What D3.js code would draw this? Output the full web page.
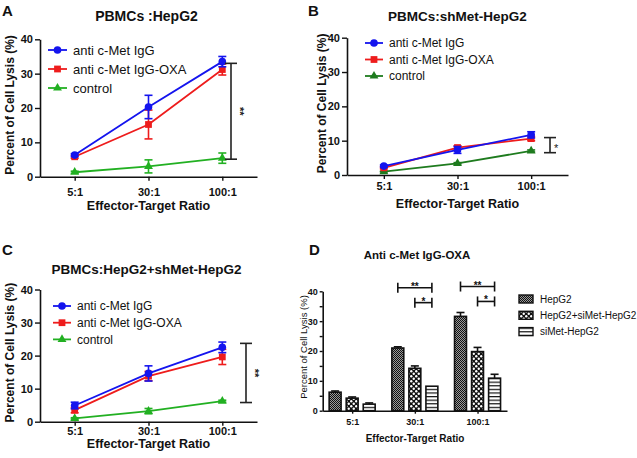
<!DOCTYPE html>
<html><head><meta charset="utf-8">
<script src="https://cdn.jsdelivr.net/npm/d3@7"></script>
<style>
body{margin:0;background:#fff}
svg{display:block}
text{font-family:"Liberation Sans",Arial,Helvetica,sans-serif}
</style>
</head><body>
<svg id="c" width="637" height="458"></svg>
<script>
// ---------- DATA ----------
const categories = ["5:1", "30:1", "100:1"];
const lineSeries = ["anti c-Met IgG", "anti c-Met IgG-OXA", "control"];
const yTicks = [0, 10, 20, 30, 40];

// Panel A  PBMCs :HepG2
const aIgG = [6.3, 20.3, 33.5], aIgGErr = [0.4, 3.4, 1.5];
const aOxa = [5.8, 15.2, 31.2], aOxaErr = [0.4, 4.2, 1.6];
const aCtl = [1.3, 3.0, 5.4],  aCtlErr = [0.3, 1.9, 1.5];
const aSig = [5.1, 33.0];

// Panel B  PBMCs:shMet-HepG2
const bIgG = [2.6, 7.3, 11.7], bIgGErr = [0.3, 1.0, 0.9];
const bOxa = [2.1, 8.0, 10.6], bOxaErr = [0.3, 0.5, 0.6];
const bCtl = [1.0, 3.4, 7.0],  bCtlErr = [0.1, 0.2, 0.3];
const bSig = [6.5, 10.9];

// Panel C  PBMCs:HepG2+shMet-HepG2
const cIgG = [4.9, 14.6, 22.5], cIgGErr = [1.0, 2.3, 1.6];
const cOxa = [3.5, 13.8, 19.6], cOxaErr = [0.8, 1.4, 2.3];
const cCtl = [1.0, 3.2, 6.2],  cCtlErr = [0.2, 0.8, 0.3];
const cSig = [5.8, 23.7];

// Panel D  Anti c-Met IgG-OXA
const barSeries = ["HepG2", "HepG2+siMet-HepG2", "siMet-HepG2"];
const dHep   = [6.2, 21.0, 31.6], dHepErr   = [0.4, 0.4, 1.3];
const dMix   = [4.2, 14.2, 19.8], dMixErr   = [0.4, 0.8, 1.4];
const dSimet = [2.2, 8.2, 10.9],  dSimetErr = [0.4, 0.0, 1.3];
const dTicks = [0, 5, 10, 15, 20, 25, 30, 35, 40];

// ---------- DRAW ----------
const svg = d3.select("#c");
const defs = svg.append("defs");

// patterns
const p1 = defs.append("pattern").attr("id", "pHep").attr("patternUnits", "userSpaceOnUse").attr("width", 2).attr("height", 2);
p1.append("rect").attr("width", 2).attr("height", 2).attr("fill", "#9a9a9a");
p1.append("rect").attr("width", 1).attr("height", 1).attr("fill", "#111");
p1.append("rect").attr("x", 1).attr("y", 1).attr("width", 1).attr("height", 1).attr("fill", "#111");

const p2 = defs.append("pattern").attr("id", "pMix").attr("patternUnits", "userSpaceOnUse").attr("width", 5).attr("height", 5);
p2.append("rect").attr("width", 5).attr("height", 5).attr("fill", "#111");
p2.append("circle").attr("cx", 1.25).attr("cy", 1.25).attr("r", 1.2).attr("fill", "#fff");
p2.append("circle").attr("cx", 3.75).attr("cy", 3.75).attr("r", 1.2).attr("fill", "#fff");

const p3 = defs.append("pattern").attr("id", "pStripe").attr("patternUnits", "userSpaceOnUse").attr("width", 4).attr("height", 3.6);
p3.append("rect").attr("width", 4).attr("height", 3.6).attr("fill", "#fff");
p3.append("rect").attr("width", 4).attr("height", 1.2).attr("fill", "#111");

const FONT = '"Liberation Sans",Arial,sans-serif';

function styleAxis(g, fontSize) {
  g.select(".domain").attr("stroke", "#111").attr("stroke-width", 1.6);
  g.selectAll(".tick line").attr("stroke", "#111").attr("stroke-width", 1.4);
  g.selectAll(".tick text").attr("fill", "#111").style("font-weight", "bold")
    .style("font-size", fontSize + "px").style("font-family", FONT);
}

function marker(g, type, x, y, color) {
  const sym = type === "circle" ? d3.symbolCircle : type === "square" ? d3.symbolSquare : d3.symbolTriangle;
  const size = type === "circle" ? 46 : type === "square" ? 46 : 34;
  g.append("path").attr("d", d3.symbol().type(sym).size(size)())
    .attr("transform", `translate(${x},${y})`).attr("fill", color);
}

function linePanel(o) {
  const g = svg.append("g");
  const x = d3.scalePoint().domain(categories).range([o.left, o.right]).padding(o.pad);
  const y = d3.scaleLinear().domain([0, 40]).range([o.bottom, o.top]);

  const ya = g.append("g").attr("transform", `translate(${o.left},0)`)
    .call(d3.axisLeft(y).tickValues(yTicks).tickSize(5).tickPadding(2).tickSizeOuter(0));
  styleAxis(ya, 11);
  const xa = g.append("g").attr("transform", `translate(0,${o.bottom})`)
    .call(d3.axisBottom(x).tickSize(4).tickPadding(o.xPad).tickSizeOuter(0));
  styleAxis(xa, 11);

  const series = [
    {name: lineSeries[2], v: o.ctl, e: o.ctlE, color: o.green, m: "triangle"},
    {name: lineSeries[1], v: o.oxa, e: o.oxaE, color: "#ee1c1c", m: "square"},
    {name: lineSeries[0], v: o.igg, e: o.iggE, color: "#1414ee", m: "circle"}
  ];
  const line = d3.line().x((d, i) => x(categories[i])).y(d => y(d));
  series.forEach(s => {
    const sg = g.append("g");
    sg.append("path").attr("d", line(s.v)).attr("fill", "none").attr("stroke", s.color).attr("stroke-width", 1.8);
    s.v.forEach((v, i) => {
      const cx = x(categories[i]);
      const e = s.e[i];
      if (e > 0) {
        sg.append("line").attr("x1", cx).attr("x2", cx).attr("y1", y(v - e)).attr("y2", y(v + e)).attr("stroke", s.color).attr("stroke-width", 1.6);
        [v - e, v + e].forEach(t => sg.append("line").attr("x1", cx - 4).attr("x2", cx + 4).attr("y1", y(t)).attr("y2", y(t)).attr("stroke", s.color).attr("stroke-width", 1.6));
      }
      marker(sg, s.m, cx, y(v), s.color);
    });
  });

  // significance bracket
  const bx = o.sigX;
  g.append("line").attr("x1", bx).attr("x2", bx).attr("y1", y(o.sig[0])).attr("y2", y(o.sig[1])).attr("stroke", "#222").attr("stroke-width", 1.6);
  o.sig.forEach(t => g.append("line").attr("x1", bx - 6).attr("x2", bx + 6).attr("y1", y(t)).attr("y2", y(t)).attr("stroke", "#222").attr("stroke-width", 1.6));
  const my = (y(o.sig[0]) + y(o.sig[1])) / 2;
  if (o.sigRot) {
    g.append("text").attr("transform", `translate(${bx + 5},${my}) rotate(90)`).attr("text-anchor", "middle")
      .style("font-size", "11px").style("font-weight", "bold").attr("fill", "#222").text(o.sigText);
  } else {
    g.append("text").attr("x", bx + 4).attr("y", my + 7).style("font-size", "11px").attr("fill", "#222").text(o.sigText);
  }

  // legend
  [series[2], series[1], series[0]].forEach((s, i) => {
    const ly = o.legY + i * o.legStep;
    g.append("line").attr("x1", o.legX).attr("x2", o.legX + o.legLen).attr("y1", ly).attr("y2", ly).attr("stroke", s.color).attr("stroke-width", 1.8);
    marker(g, s.m, o.legX + o.legLen / 2, ly, s.color);
    g.append("text").attr("x", o.legX + o.legLen + 6).attr("y", ly).attr("dy", "0.35em")
      .style("font-size", o.legFont + "px").attr("fill", "#111").text(s.name);
  });

  // titles
  g.append("text").attr("x", (o.left + o.right) / 2 - o.titleShift).attr("y", o.titleY).attr("text-anchor", "middle")
    .style("font-size", o.titleFont + "px").style("font-weight", "bold").attr("fill", "#111").text(o.title);
  g.append("text").attr("x", (x(categories[0]) + x(categories[2])) / 2).attr("y", o.xTitleY).attr("text-anchor", "middle")
    .style("font-size", "12.5px").style("font-weight", "bold").attr("fill", "#111").text("Effector-Target Ratio");
  g.append("text").attr("transform", `translate(${o.yLabX},${(o.top + o.bottom) / 2 - 3}) rotate(-90)`).attr("text-anchor", "middle")
    .style("font-size", "12px").style("font-weight", "bold").attr("fill", "#111").text("Percent of Cell Lysis (%)");
  g.append("text").attr("x", o.letterX).attr("y", o.letterY).style("font-size", "15px").style("font-weight", "bold").attr("fill", "#111").text(o.letter);
}

linePanel({left: 40, right: 257, pad: 0.47, top: 39.3, bottom: 176.7, xPad: 8,
  igg: aIgG, iggE: aIgGErr, oxa: aOxa, oxaE: aOxaErr, ctl: aCtl, ctlE: aCtlErr, green: "#22b022",
  sig: aSig, sigX: 231, sigText: "**", sigRot: true,
  legX: 48, legLen: 19, legY: 50, legStep: 19, legFont: 13,
  title: "PBMCs :HepG2", titleY: 21, titleFont: 14, titleShift: 2, xTitleY: 210, yLabX: 14,
  letter: "A", letterX: 2, letterY: 16});

linePanel({left: 347, right: 568, pad: 0.5, top: 37.7, bottom: 175, xPad: 3.5,
  igg: bIgG, iggE: bIgGErr, oxa: bOxa, oxaE: bOxaErr, ctl: bCtl, ctlE: bCtlErr, green: "#1e7b1e",
  sig: bSig, sigX: 550, sigText: "*", sigRot: false,
  legX: 365, legLen: 18, legY: 43, legStep: 16.5, legFont: 12,
  title: "PBMCs:shMet-HepG2", titleY: 21, titleFont: 13.5, titleShift: 0, xTitleY: 208, yLabX: 326,
  letter: "B", letterX: 308, letterY: 16});

linePanel({left: 40, right: 257, pad: 0.47, top: 289.5, bottom: 421.7, xPad: 1.5,
  igg: cIgG, iggE: cIgGErr, oxa: cOxa, oxaE: cOxaErr, ctl: cCtl, ctlE: cCtlErr, green: "#22b022",
  sig: cSig, sigX: 246, sigText: "**", sigRot: true,
  legX: 53, legLen: 18, legY: 306, legStep: 16.7, legFont: 12,
  title: "PBMCs:HepG2+shMet-HepG2", titleY: 274, titleFont: 13.5, titleShift: 2, xTitleY: 448, yLabX: 14,
  letter: "C", letterX: 2, letterY: 255});

// ---------- Panel D (bars) ----------
(function () {
  const g = svg.append("g");
  const left = 322.7, right = 507, top = 291.3, bottom = 410.7;
  const x = d3.scalePoint().domain(categories).range([left, right]).padding(0.47);
  const xs = d3.scaleBand().domain(barSeries).range([-23, 23]).paddingInner(0.3);
  const y = d3.scaleLinear().domain([0, 40]).range([bottom, top]);

  const ya = g.append("g").attr("transform", `translate(${left},0)`)
    .call(d3.axisLeft(y).tickValues(dTicks).tickSize(3).tickPadding(2).tickSizeOuter(0)
      .tickFormat(d => d % 10 === 0 ? d : ""));
  styleAxis(ya, 9);
  const xa = g.append("g").attr("transform", `translate(0,${bottom})`)
    .call(d3.axisBottom(x).tickSize(3).tickPadding(5).tickSizeOuter(0));
  styleAxis(xa, 9);

  const bars = [
    {name: barSeries[0], v: dHep, e: dHepErr, fill: "url(#pHep)"},
    {name: barSeries[1], v: dMix, e: dMixErr, fill: "url(#pMix)"},
    {name: barSeries[2], v: dSimet, e: dSimetErr, fill: "url(#pStripe)"}
  ];
  bars.forEach(s => {
    s.v.forEach((v, i) => {
      const bx = x(categories[i]) + xs(s.name);
      const cx = bx + xs.bandwidth() / 2;
      if (s.e[i] > 0) {
        g.append("line").attr("x1", cx).attr("x2", cx).attr("y1", y(v)).attr("y2", y(v + s.e[i])).attr("stroke", "#111").attr("stroke-width", 1.6);
        g.append("line").attr("x1", cx - 4).attr("x2", cx + 4).attr("y1", y(v + s.e[i])).attr("y2", y(v + s.e[i])).attr("stroke", "#111").attr("stroke-width", 1.6);
      }
      g.append("rect").attr("x", bx).attr("y", y(v)).attr("width", xs.bandwidth()).attr("height", y(0) - y(v))
        .attr("fill", s.fill).attr("stroke", "#111").attr("stroke-width", 1.6);
    });
  });

  // significance brackets
  const sigD = [
    {cat: "30:1", a: barSeries[0], b: barSeries[2], lvl: 41.2, t: "**"},
    {cat: "30:1", a: barSeries[1], b: barSeries[2], lvl: 36.2, t: "*"},
    {cat: "100:1", a: barSeries[0], b: barSeries[2], lvl: 41.6, t: "**"},
    {cat: "100:1", a: barSeries[1], b: barSeries[2], lvl: 36.6, t: "*"}
  ];
  sigD.forEach(s => {
    const x1 = x(s.cat) + xs(s.a) + xs.bandwidth() / 2;
    const x2 = x(s.cat) + xs(s.b) + xs.bandwidth() / 2;
    const yy = y(s.lvl);
    g.append("line").attr("x1", x1).attr("x2", x2).attr("y1", yy).attr("y2", yy).attr("stroke", "#111").attr("stroke-width", 1.6);
    [x1, x2].forEach(xx => g.append("line").attr("x1", xx).attr("x2", xx).attr("y1", yy - 5).attr("y2", yy + 5).attr("stroke", "#111").attr("stroke-width", 1.6));
    g.append("text").attr("x", (x1 + x2) / 2).attr("y", yy + 2).attr("text-anchor", "middle")
      .style("font-size", "10px").style("font-weight", "bold").attr("fill", "#111").text(s.t);
  });

  // legend
  bars.forEach((s, i) => {
    const ly = 299 + i * 16.3;
    g.append("rect").attr("x", 519).attr("y", ly - 4).attr("width", 14).attr("height", 8)
      .attr("fill", s.fill).attr("stroke", "#111").attr("stroke-width", 1.4);
    g.append("text").attr("x", 540).attr("y", ly).attr("dy", "0.35em").style("font-size", "10px").attr("fill", "#111").text(s.name);
  });

  g.append("text").attr("x", 417).attr("y", 259).attr("text-anchor", "middle")
    .style("font-size", "11.5px").style("font-weight", "bold").attr("fill", "#111").text("Anti c-Met IgG-OXA");
  g.append("text").attr("x", 415).attr("y", 442).attr("text-anchor", "middle")
    .style("font-size", "10px").style("font-weight", "bold").attr("fill", "#111").text("Effector-Target Ratio");
  g.append("text").attr("transform", `translate(307,${(top + bottom) / 2 - 4}) rotate(-90)`).attr("text-anchor", "middle")
    .style("font-size", "9.5px").attr("fill", "#111").text("Percent of Cell Lysis (%)");
  g.append("text").attr("x", 309).attr("y", 255).style("font-size", "15px").style("font-weight", "bold").attr("fill", "#111").text("D");
})();
</script>
</body></html>
